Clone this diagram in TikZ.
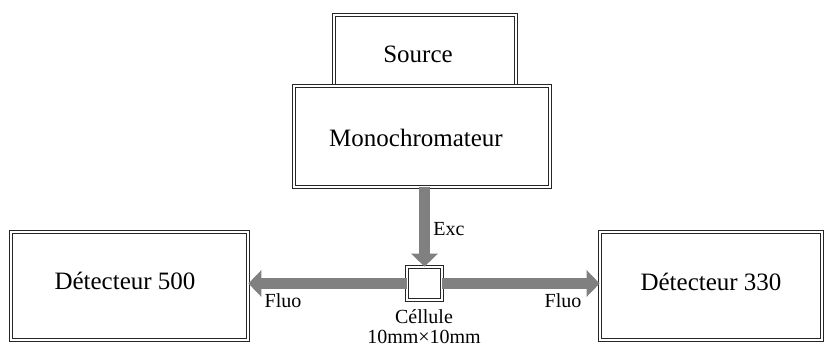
\documentclass[tikz,border=0pt]{standalone}
\usepackage{fontspec}
\setmainfont{Liberation Serif}
\usetikzlibrary{arrows.meta}
\begin{document}
\begin{tikzpicture}[x=1pt,y=1pt,
  dbox/.style={draw=black!85, double=white, double distance=2pt, line width=0.7pt, fill=white, inner sep=0pt, font=\fontsize{25}{28}\selectfont},
  small/.style={font=\fontsize{20}{22}\selectfont, inner sep=0pt},
  garrow/.style={draw=black!50, line width=11pt, -{Triangle[width=26pt,length=13pt]}}]
\useasboundingbox (0,0) rectangle (825,347);
\node[dbox, minimum width=182pt, minimum height=71pt] (src) at (425,296.5) {};
\node[font=\fontsize{25}{28}\selectfont] at (418,293) {Source};
\node[dbox, minimum width=256pt, minimum height=101pt] (mono) at (422,210.5) {};
\node[font=\fontsize{25}{28}\selectfont] at (416,209) {Monochromateur};
\node[dbox, minimum width=237pt, minimum height=108pt] (d500) at (129.5,61) {};
\node[font=\fontsize{25}{28}\selectfont] at (125,66) {Détecteur 500};
\node[dbox, minimum width=222pt, minimum height=108pt] (d330) at (711,61) {};
\node[font=\fontsize{25}{28}\selectfont] at (711,65) {Détecteur 330};
\node[dbox, minimum width=35pt, minimum height=33pt] (cell) at (424.5,63.5) {};
\draw[garrow] (mono.south -| cell.north) -- (cell.north);
\draw[garrow] (cell.west) -- (d500.east |- cell.west);
\draw[garrow] (cell.east) -- (d330.west |- cell.east);
\node[small] (exc) at (449,118) {Exc};
\node[small] (f1) at (283,46) {Fluo};
\node[small] (f2) at (563,46) {Fluo};
\node[small] (cl) at (424,30) {Céllule};
\node[small] (dim) at (424,10) {10mm×10mm};
\end{tikzpicture}
\end{document}
